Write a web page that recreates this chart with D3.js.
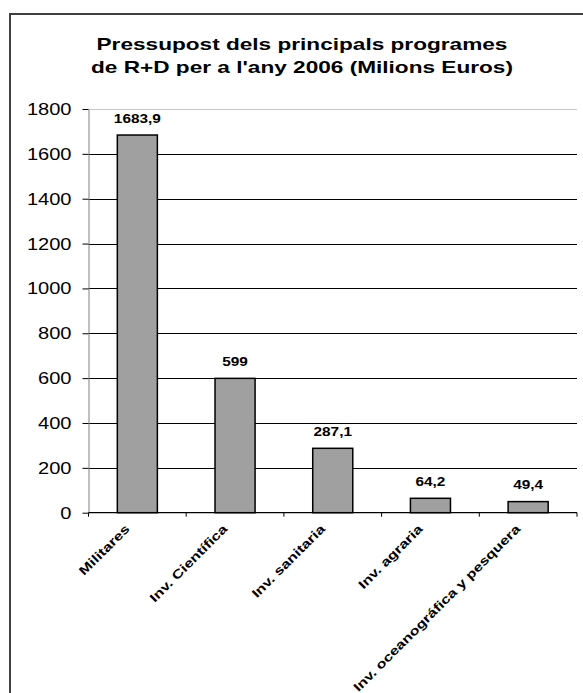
<!DOCTYPE html>
<html>
<head>
<meta charset="utf-8">
<script src="https://cdn.jsdelivr.net/npm/d3@7"></script>
<style>
  html, body { margin: 0; padding: 0; background: #fff; }
  svg { display: block; }
  text { font-family: Arial, "Liberation Sans", sans-serif; fill: #000; }
</style>
</head>
<body>
<svg id="chart" width="583" height="693"></svg>
<script>
const categories = ["Militares", "Inv. Científica", "Inv. sanitaria", "Inv. agraria", "Inv. oceanográfica y pesquera"];
const values = [1683.9, 599, 287.1, 64.2, 49.4];
const valueLabels = ["1683,9", "599", "287,1", "64,2", "49,4"];
const yTicks = [0, 200, 400, 600, 800, 1000, 1200, 1400, 1600, 1800];
const titleLines = ["Pressupost dels principals programes", "de R+D per a l'any 2006 (Milions Euros)"];

const svg = d3.select("#chart");
function spread(factor) {
  return function(sel) {
    sel.each(function() {
      const w = this.getComputedTextLength();
      d3.select(this).attr("textLength", w * factor).attr("lengthAdjust", "spacingAndGlyphs");
    });
  };
}

// outer frame
svg.append("rect")
  .attr("x", 10).attr("y", 14).attr("width", 600).attr("height", 700)
  .attr("fill", "#fff").attr("stroke", "#404040").attr("stroke-width", 2);

const plotL = 88.5, plotR = 577, plotT = 109, plotB = 512.7;

const y = d3.scaleLinear().domain([0, 1800]).range([plotB, plotT]);
const x = d3.scaleBand().domain(categories).range([plotL, plotR])
  .paddingInner(0.59).paddingOuter(0.295);
const step = x.step();
const bw = x.bandwidth();

// gridlines
svg.append("g").selectAll("line").data(yTicks.filter(t => t > 0)).join("line")
  .attr("x1", plotL).attr("x2", plotR)
  .attr("y1", d => Math.round(y(d)) + 0.5).attr("y2", d => Math.round(y(d)) + 0.5)
  .attr("stroke", d => d === 1800 ? "#c8c8c8" : "#000").attr("stroke-width", 1);

// y axis
const yAxis = svg.append("g").attr("transform", `translate(${plotL},0)`)
  .call(d3.axisLeft(y).tickValues(yTicks).tickFormat(d3.format("d"))
    .tickSize(6).tickSizeOuter(0).tickPadding(11));
yAxis.select(".domain").attr("stroke", "#808080");
yAxis.selectAll(".tick line").attr("stroke", "#000");
yAxis.selectAll(".tick text").attr("font-size", 17)
  .attr("font-family", "Arial, 'Liberation Sans', sans-serif").attr("fill", "#000")
  .call(spread(1.18));

// bars
svg.append("g").selectAll("rect").data(values).join("rect")
  .attr("x", (d, i) => x(categories[i]))
  .attr("width", bw)
  .attr("y", d => y(d))
  .attr("height", d => y(0) - y(d))
  .attr("fill", "#a0a0a0").attr("stroke", "#000").attr("stroke-width", 1.5);

// x axis baseline and ticks
svg.append("line").attr("x1", plotL).attr("x2", plotR)
  .attr("y1", plotB).attr("y2", plotB).attr("stroke", "#000").attr("stroke-width", 1.2);
const boundaries = categories.map(c => x(c) - (step - bw) / 2).concat([plotR]);
svg.append("g").selectAll("line").data(boundaries).join("line")
  .attr("x1", d => d).attr("x2", d => d)
  .attr("y1", plotB).attr("y2", plotB + 4)
  .attr("stroke", "#000").attr("stroke-width", 1);

// value labels
svg.append("g").selectAll("text").data(values).join("text")
  .attr("x", (d, i) => x(categories[i]) + bw / 2)
  .attr("y", d => y(d) - 12.5)
  .attr("text-anchor", "middle")
  .attr("font-size", 12).attr("font-weight", "bold")
  .text((d, i) => valueLabels[i])
  .call(spread(1.28));

// category labels
svg.append("g").selectAll("text").data(categories).join("text")
  .attr("transform", d => `translate(${x(d) + bw / 2 - 7},${plotB + 17}) rotate(-45)`)
  .attr("text-anchor", "end")
  .attr("font-size", 12.5).attr("font-weight", "bold")
  .text(d => d)
  .call(spread(1.29));

// title
svg.append("g").selectAll("text").data(titleLines).join("text")
  .attr("x", 302).attr("y", (d, i) => 49.5 + i * 23.5)
  .attr("text-anchor", "middle")
  .attr("font-size", 17).attr("font-weight", "bold")
  .text(d => d)
  .call(spread(1.33));
</script>
</body>
</html>
